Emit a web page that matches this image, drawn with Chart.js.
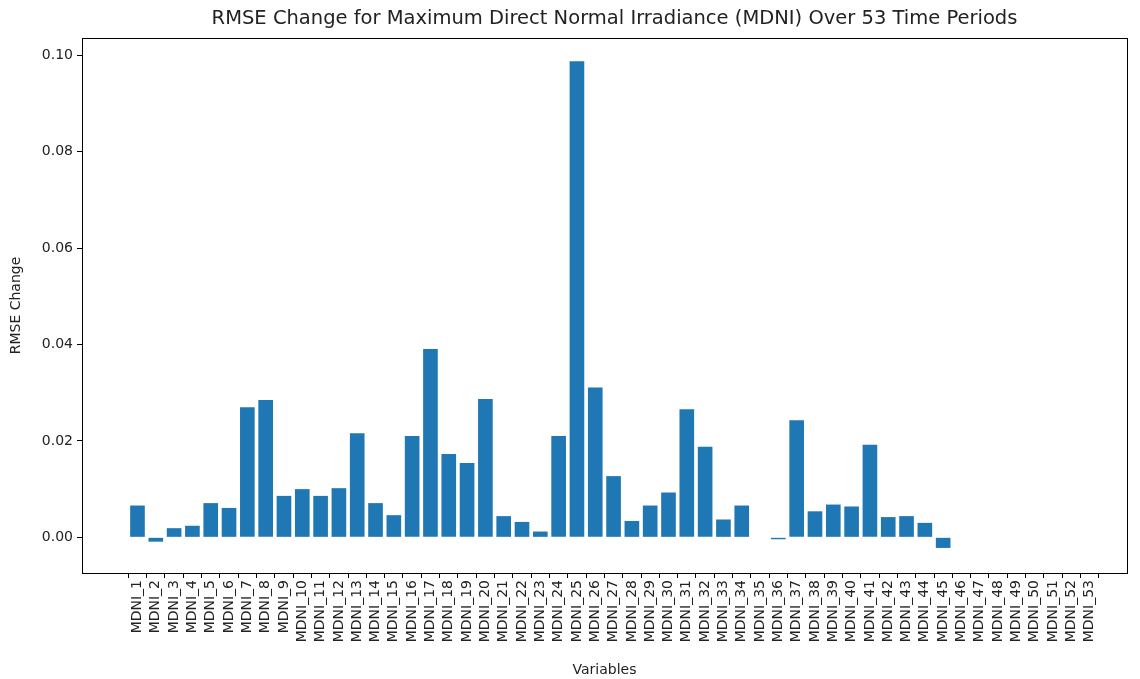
<!DOCTYPE html>
<html>
<head>
<meta charset="utf-8">
<script src="https://cdn.jsdelivr.net/npm/chart.js@4.4.1/dist/chart.umd.min.js"></script>
<style>
  html, body { margin: 0; padding: 0; background: #fff; }
  #wrap { width: 1140px; height: 679px; }
</style>
</head>
<body>
<div id="wrap"><canvas id="chart"></canvas></div>
<script>
// данные
const categories = Array.from({ length: 53 }, (_, i) => `MDNI_${i + 1}`);
const rmseChange = [
  0.0066, -0.0009, 0.0019, 0.0024, 0.0071, 0.0061, 0.0270, 0.0285, 0.0086, 0.0100,
  0.0086, 0.0102, 0.0216, 0.0071, 0.0046, 0.0210, 0.0391, 0.0173, 0.0154, 0.0287,
  0.0044, 0.0032, 0.0012, 0.0210, 0.0988, 0.0311, 0.0127, 0.0034, 0.0066, 0.0093,
  0.0266, 0.0188, 0.0037, 0.0066, 0.0000, -0.0004, 0.0243, 0.0054, 0.0068, 0.0064,
  0.0192, 0.0042, 0.0044, 0.0030, -0.0022, 0, 0, 0, 0, 0,
  0, 0, 0
];
const yTicks = [0.00, 0.02, 0.04, 0.06, 0.08, 0.10];
const chartTitle = 'RMSE Change for Maximum Direct Normal Irradiance (MDNI) Over 53 Time Periods';

const TEXT = '#222';
const FONT = 'DejaVu Sans';

// рамка вокруг области графика + заголовок (чуть правее центра, как в оригинале)
const framePlugin = {
  id: 'frame',
  afterDraw(chart) {
    const { ctx, chartArea: a } = chart;
    ctx.save();
    ctx.strokeStyle = '#000';
    ctx.lineWidth = 1;
    ctx.strokeRect(Math.round(a.left) + 0.5, Math.round(a.top) + 0.5,
      Math.round(a.right - a.left), Math.round(a.bottom - a.top));

    ctx.fillStyle = TEXT;
    ctx.font = `19.5px "${FONT}"`;
    ctx.textAlign = 'center';
    ctx.textBaseline = 'middle';
    ctx.fillText(chartTitle, (a.left + a.right) / 2 + 10, a.top / 2);
    ctx.restore();
  }
};

new Chart(document.getElementById('chart'), {
  type: 'bar',
  data: {
    datasets: [{
      data: rmseChange.map((v, i) => ({ x: i, y: v })),
      backgroundColor: '#1f77b4',
      borderWidth: 0,
      barPercentage: 1.0,
      categoryPercentage: 0.8,
    }]
  },
  options: {
    responsive: true,
    maintainAspectRatio: false,
    animation: false,
    layout: { padding: { left: 8, right: 13, top: 38, bottom: 0 } },
    plugins: {
      legend: { display: false },
      tooltip: { enabled: false },
      title: { display: false },
    },
    scales: {
      x: {
        type: 'linear',
        min: -3.03,
        max: 54.04,
        offset: false,
        afterBuildTicks: (scale) => { scale.ticks = categories.map((_, i) => ({ value: i })); },
        afterFit: (scale) => { scale.height = 106; },
        ticks: {
          autoSkip: false,
          minRotation: 90,
          maxRotation: 90,
          color: TEXT,
          font: { family: FONT, size: 14 },
          padding: 2,
          callback: (v) => categories[v],
        },
        grid: { display: true, drawOnChartArea: false, drawTicks: true, tickLength: 5, color: '#000' },
        border: { display: true, color: '#000' },
        title: {
          display: true,
          text: 'Variables',
          color: TEXT,
          font: { family: FONT, size: 14 },
          padding: { top: 0, bottom: 0 },
        },
      },
      y: {
        min: -0.0074,
        max: 0.1036,
        afterBuildTicks: (scale) => { scale.ticks = yTicks.map(v => ({ value: v })); },
        afterFit: (scale) => { scale.width = 74; },
        ticks: {
          color: TEXT,
          font: { family: FONT, size: 14 },
          padding: 4,
          callback: (v) => v.toFixed(2),
        },
        grid: { display: true, drawOnChartArea: false, drawTicks: true, tickLength: 5, color: '#000' },
        border: { display: true, color: '#000' },
        title: {
          display: true,
          text: 'RMSE Change',
          color: TEXT,
          font: { family: FONT, size: 14 },
          padding: { top: 0, bottom: 4 },
        },
      },
    },
  },
  plugins: [framePlugin],
});
</script>
</body>
</html>
